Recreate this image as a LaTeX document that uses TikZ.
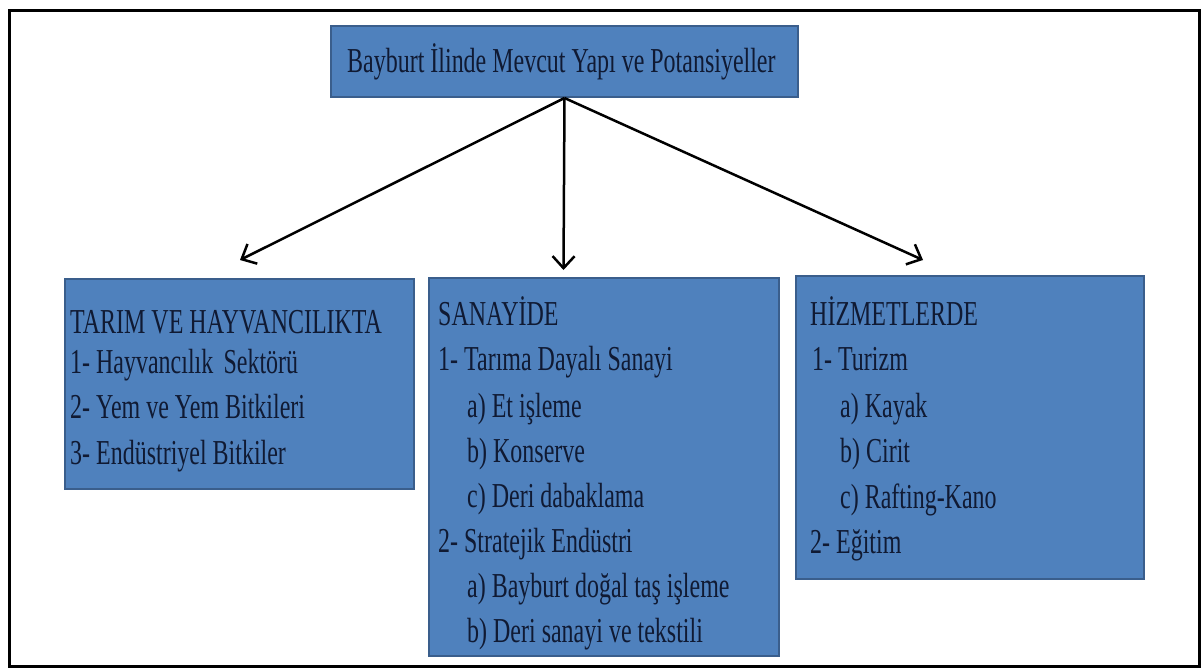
\documentclass[tikz,border=0pt]{standalone}
\usepackage{fontspec}
\setmainfont{Liberation Serif}[FakeStretch=0.685]
\usetikzlibrary{arrows.meta}
\definecolor{boxfill}{HTML}{4F81BD}
\definecolor{boxline}{HTML}{3A5E8C}
\definecolor{ink}{HTML}{101A33}
\begin{document}
\begin{tikzpicture}[x=1pt,y=-1pt,
  box/.style={draw=boxline, fill=boxfill, line width=2pt, inner sep=0pt, anchor=north west},
  txt/.style={anchor=base west, inner sep=0pt, text=ink, font=\fontsize{35}{40}\selectfont},
  conn/.style={line width=2.5pt, -{Straight Barb[length=12pt,width=22pt,line width=2.5pt]}}]
\useasboundingbox (0,0) rectangle (1203,669);
\node[draw=black, line width=3pt, minimum width=1190pt, minimum height=656pt, anchor=north west, inner sep=0pt] (frame) at (8,9) {};
% boxes
\node[box, minimum width=467pt, minimum height=71pt] (top) at (330,25) {};
\node[box, minimum width=349pt, minimum height=210pt] (left) at (64,278) {};
\node[box, minimum width=350pt, minimum height=378pt] (mid) at (428,277) {};
\node[box, minimum width=348pt, minimum height=303pt] (right) at (795,275) {};
% top text
\node[txt] (ttop) at (347,73) {Bayburt İlinde Mevcut Yapı ve Potansiyeller};
% left texts
\node[txt] (l1) at (70,333) {TARIM VE HAYVANCILIKTA};
\node[txt] (l2) at (70,373) {1- Hayvancılık\hspace{0.12em} Sektörü};
\node[txt] (l3) at (70,418) {2- Yem ve Yem Bitkileri};
\node[txt] (l4) at (70,464) {3- Endüstriyel Bitkiler};
% middle texts
\node[txt] (m1) at (438,325) {SANAYİDE};
\node[txt] (m2) at (438,370) {1- Tarıma Dayalı Sanayi};
\node[txt] (m3) at (467,417) {a) Et işleme};
\node[txt] (m4) at (467,462) {b) Konserve};
\node[txt] (m5) at (467,507) {c) Deri dabaklama};
\node[txt] (m6) at (438,552) {2- Stratejik Endüstri};
\node[txt] (m7) at (467,597) {a) Bayburt doğal taş işleme};
\node[txt] (m8) at (467,642) {b) Deri sanayi ve tekstili};
% right texts
\node[txt] (r1) at (810,325) {HİZMETLERDE};
\node[txt] (r2) at (812,370) {1- Turizm};
\node[txt] (r3) at (840,417) {a) Kayak};
\node[txt] (r4) at (840,462) {b) Cirit};
\node[txt] (r5) at (840,508) {c) Rafting-Kano};
\node[txt] (r6) at (810,553) {2- Eğitim};
% connectors
\coordinate (tipL) at (240,260);
\coordinate (tipM) at (563.5,270);
\coordinate (tipR) at (923,260);
\draw[conn] (top.south) -- (tipL);
\draw[conn] (top.south) -- (tipM);
\draw[conn] (top.south) -- (tipR);
\end{tikzpicture}
\end{document}
